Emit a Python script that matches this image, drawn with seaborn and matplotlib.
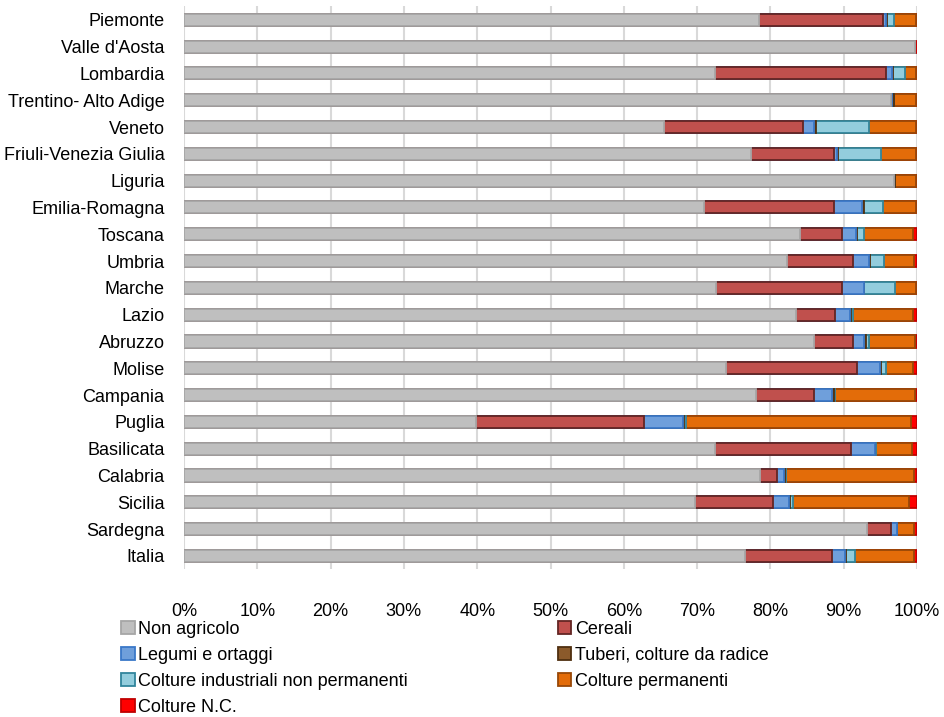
import numpy as np
import pandas as pd
import seaborn as sns
from matplotlib import pyplot as plt
from matplotlib.patches import Patch
from matplotlib.ticker import PercentFormatter

##############################################

regions = [
    "Piemonte", "Valle d'Aosta", "Lombardia", "Trentino- Alto Adige", "Veneto",
    "Friuli-Venezia Giulia", "Liguria", "Emilia-Romagna", "Toscana", "Umbria",
    "Marche", "Lazio", "Abruzzo", "Molise", "Campania", "Puglia", "Basilicata",
    "Calabria", "Sicilia", "Sardegna", "Italia",
]

non_agricolo = [78.4, 99.7, 72.4, 96.4, 65.5, 77.4, 96.9, 70.9, 84.0, 82.3, 72.6,
                83.5, 85.9, 73.9, 78.1, 39.9, 72.4, 78.6, 69.7, 93.2, 76.5]
cereali = [17.0, 0.0, 23.3, 0.1, 19.0, 11.3, 0.0, 17.8, 5.8, 9.0, 17.1,
           5.3, 5.4, 17.9, 7.9, 22.8, 18.6, 2.3, 10.7, 3.3, 11.9]
legumi = [0.4, 0.0, 0.9, 0.1, 1.5, 0.4, 0.0, 3.8, 1.9, 2.2, 3.0,
          2.0, 1.5, 3.2, 2.4, 5.4, 3.2, 1.0, 2.2, 0.7, 1.8]
tuberi = [0.1, 0.0, 0.1, 0.2, 0.2, 0.1, 0.1, 0.2, 0.1, 0.1, 0.1,
          0.2, 0.3, 0.1, 0.3, 0.1, 0.1, 0.1, 0.1, 0.1, 0.1]
industriali = [0.9, 0.0, 1.7, 0.0, 7.2, 5.9, 0.0, 2.6, 0.9, 1.9, 4.2,
               0.3, 0.3, 0.7, 0.1, 0.3, 0.1, 0.1, 0.4, 0.0, 1.3]
permanenti = [3.0, 0.0, 1.4, 3.0, 6.5, 4.7, 2.9, 4.6, 6.8, 4.1, 2.8,
              8.2, 6.3, 3.6, 10.9, 30.7, 4.9, 17.5, 15.8, 2.3, 8.0]
colture_nc = [0.2, 0.3, 0.2, 0.2, 0.1, 0.2, 0.1, 0.1, 0.5, 0.4, 0.2,
              0.5, 0.3, 0.6, 0.3, 0.8, 0.7, 0.4, 1.1, 0.4, 0.4]

series_names = [
    "Non agricolo", "Cereali", "Legumi e ortaggi", "Tuberi, colture da radice",
    "Colture industriali non permanenti", "Colture permanenti", "Colture N.C.",
]

##############################################

face_colors = ["#BFBFBF", "#C0504D", "#6F9FDB", "#8B5A2B", "#93CDDD", "#E36C09", "#FF0000"]
edge_colors = ["#A6A6A6", "#632523", "#3A78C8", "#4F2F10", "#31859C", "#984807", "#C00000"]

df = pd.DataFrame(
    np.array([non_agricolo, cereali, legumi, tuberi, industriali, permanenti, colture_nc]).T,
    columns=series_names,
)
df["Regione"] = regions
# normalise each row to 100%
df[series_names] = df[series_names].div(df[series_names].sum(axis=1), axis=0) * 100
cum = df[series_names].cumsum(axis=1)
cum["Regione"] = regions

sns.set_theme(style="white")
plt.rcParams["font.family"] = ["Liberation Sans", "DejaVu Sans"]

fig = plt.figure(figsize=(9.45, 7.17), dpi=100)
ax = fig.add_axes([0.1947, 0.206, 0.7757, 0.785])

# draw cumulative totals from the right, each layer on top of the previous
for i in range(len(series_names) - 1, -1, -1):
    sns.barplot(
        data=cum, x=series_names[i], y="Regione", order=regions,
        color=face_colors[i], edgecolor=edge_colors[i], linewidth=1.3,
        width=0.45, saturation=1, ax=ax, zorder=3,
    )

ax.set_xlim(0, 100)
ax.set_xticks(np.arange(0, 101, 10))
ax.xaxis.set_major_formatter(PercentFormatter(decimals=0))
ax.grid(axis="x", color="#D9D9D9", linewidth=1.5, zorder=0)
ax.set_axisbelow(True)
ax.set_xlabel("")
ax.set_ylabel("")
for side in ["top", "right", "bottom", "left"]:
    ax.spines[side].set_visible(False)
ax.tick_params(axis="x", length=0, pad=24, labelsize=13, colors="#000000")
ax.tick_params(axis="y", length=0, pad=14, labelsize=13, colors="#000000")

handles = [Patch(facecolor=face_colors[i], edgecolor=edge_colors[i], linewidth=1.3)
           for i in range(len(series_names))]
# row-wise reading order in a 2-column legend
col_order = [0, 2, 4, 6, 1, 3, 5]
leg = fig.legend(
    [handles[i] for i in col_order], [series_names[i] for i in col_order],
    loc="upper left", bbox_to_anchor=(0.128, 0.134), ncol=2, frameon=False,
    fontsize=13, handlelength=0.75, handleheight=0.75, handletextpad=0.2,
    labelspacing=0.5, columnspacing=8.3, borderaxespad=0, borderpad=0,
)
for t in leg.get_texts():
    t.set_color("#000000")

fig.savefig("out.png", dpi=100)
